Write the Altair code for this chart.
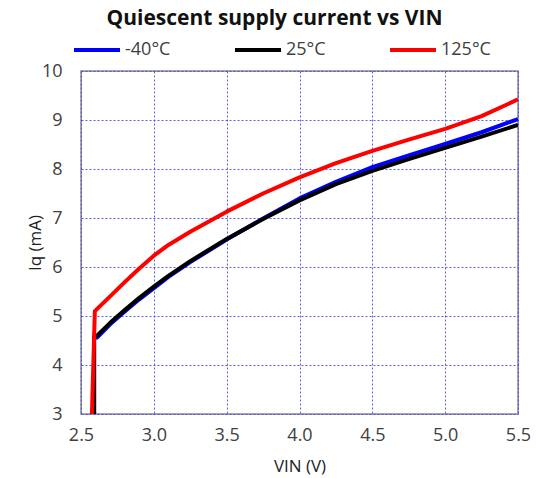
import altair as alt
import pandas as pd

# -40°C
vin_cold = [2.59, 2.59, 2.61, 2.7, 2.8, 2.9, 3.0, 3.1, 3.25, 3.5, 3.75, 4.0, 4.25, 4.5, 4.75, 5.0, 5.25, 5.5]
iq_cold = [3.0, 4.55, 4.56, 4.83, 5.09, 5.34, 5.57, 5.80, 6.10, 6.56, 6.99, 7.40, 7.74, 8.04, 8.28, 8.51, 8.75, 9.02]
# 25°C
vin_room = [2.59, 2.59, 2.61, 2.7, 2.8, 2.9, 3.0, 3.1, 3.25, 3.5, 3.75, 4.0, 4.25, 4.5, 4.75, 5.0, 5.25, 5.5]
iq_room = [3.0, 4.58, 4.60, 4.86, 5.12, 5.37, 5.60, 5.82, 6.12, 6.57, 6.98, 7.36, 7.69, 7.96, 8.20, 8.43, 8.66, 8.90]
# 125°C
vin_hot = [2.575, 2.595, 2.7, 2.8, 2.9, 3.0, 3.1, 3.25, 3.5, 3.75, 4.0, 4.25, 4.5, 4.75, 5.0, 5.25, 5.5]
iq_hot = [3.0, 5.10, 5.40, 5.69, 5.97, 6.23, 6.45, 6.72, 7.13, 7.50, 7.83, 8.12, 8.37, 8.60, 8.82, 9.08, 9.42]

series = ["-40°C", "25°C", "125°C"]
colors = ["#0000ff", "#000000", "#ff0000"]
x_ticks = [2.5, 3.0, 3.5, 4.0, 4.5, 5.0, 5.5]
y_ticks = [3, 4, 5, 6, 7, 8, 9, 10]

rows = []
for k, (name, xs, ys) in enumerate(zip(series, [vin_cold, vin_room, vin_hot], [iq_cold, iq_room, iq_hot])):
    for i, (x, y) in enumerate(zip(xs, ys)):
        rows.append({"series": name, "k": k, "i": i, "vin": x, "iq": y})
df = pd.DataFrame(rows)

font = "Open Sans"

chart = alt.Chart(df).mark_line(strokeWidth=4, clip=True, strokeJoin="round").encode(
    x=alt.X("vin:Q", scale=alt.Scale(domain=[2.5, 5.5], nice=False),
            axis=alt.Axis(title="VIN (V)", values=x_ticks, format=".1f", labelFlush=False,
                          labelPadding=12, titlePadding=14)),
    y=alt.Y("iq:Q", scale=alt.Scale(domain=[3, 10], nice=False),
            axis=alt.Axis(title="Iq (mA)", values=y_ticks, format="d", labelFlush=False,
                          labelPadding=19, titlePadding=-3)),
    color=alt.Color("series:N", scale=alt.Scale(domain=series, range=colors),
                    sort=series,
                    legend=alt.Legend(title=None, orient="none", direction="horizontal",
                                      legendX=-9, legendY=-46, symbolType="stroke",
                                      symbolSize=2116, symbolStrokeWidth=4,
                                      columnPadding=56, labelOffset=3,
                                      labelFontSize=18, labelFont=font, labelColor="#404040")),
    detail="k:O",
    order="i:Q",
).properties(
    width=437, height=343,
    title=alt.TitleParams("Quiescent supply current vs VIN", font=font, fontSize=21,
                          fontWeight="bold", color="#111111", anchor="middle", dx=-25, offset=-4),
    autosize=alt.AutoSizeParams(type="none"),
    padding={"left": 73, "top": 63, "right": 15, "bottom": 64},
).configure_view(
    stroke="#888888", strokeWidth=1.5
).configure_axis(
    grid=True, gridColor="#3333ff", gridDash=[2, 2], gridWidth=1, gridOpacity=0.8,
    domain=False, ticks=False,
    labelFont=font, labelFontSize=18, labelColor="#404040",
    titleFont=font, titleFontSize=17, titleFontWeight="normal", titleColor="#222222",
)

chart.save("out.html", embed_options={"renderer": "svg", "actions": False})
